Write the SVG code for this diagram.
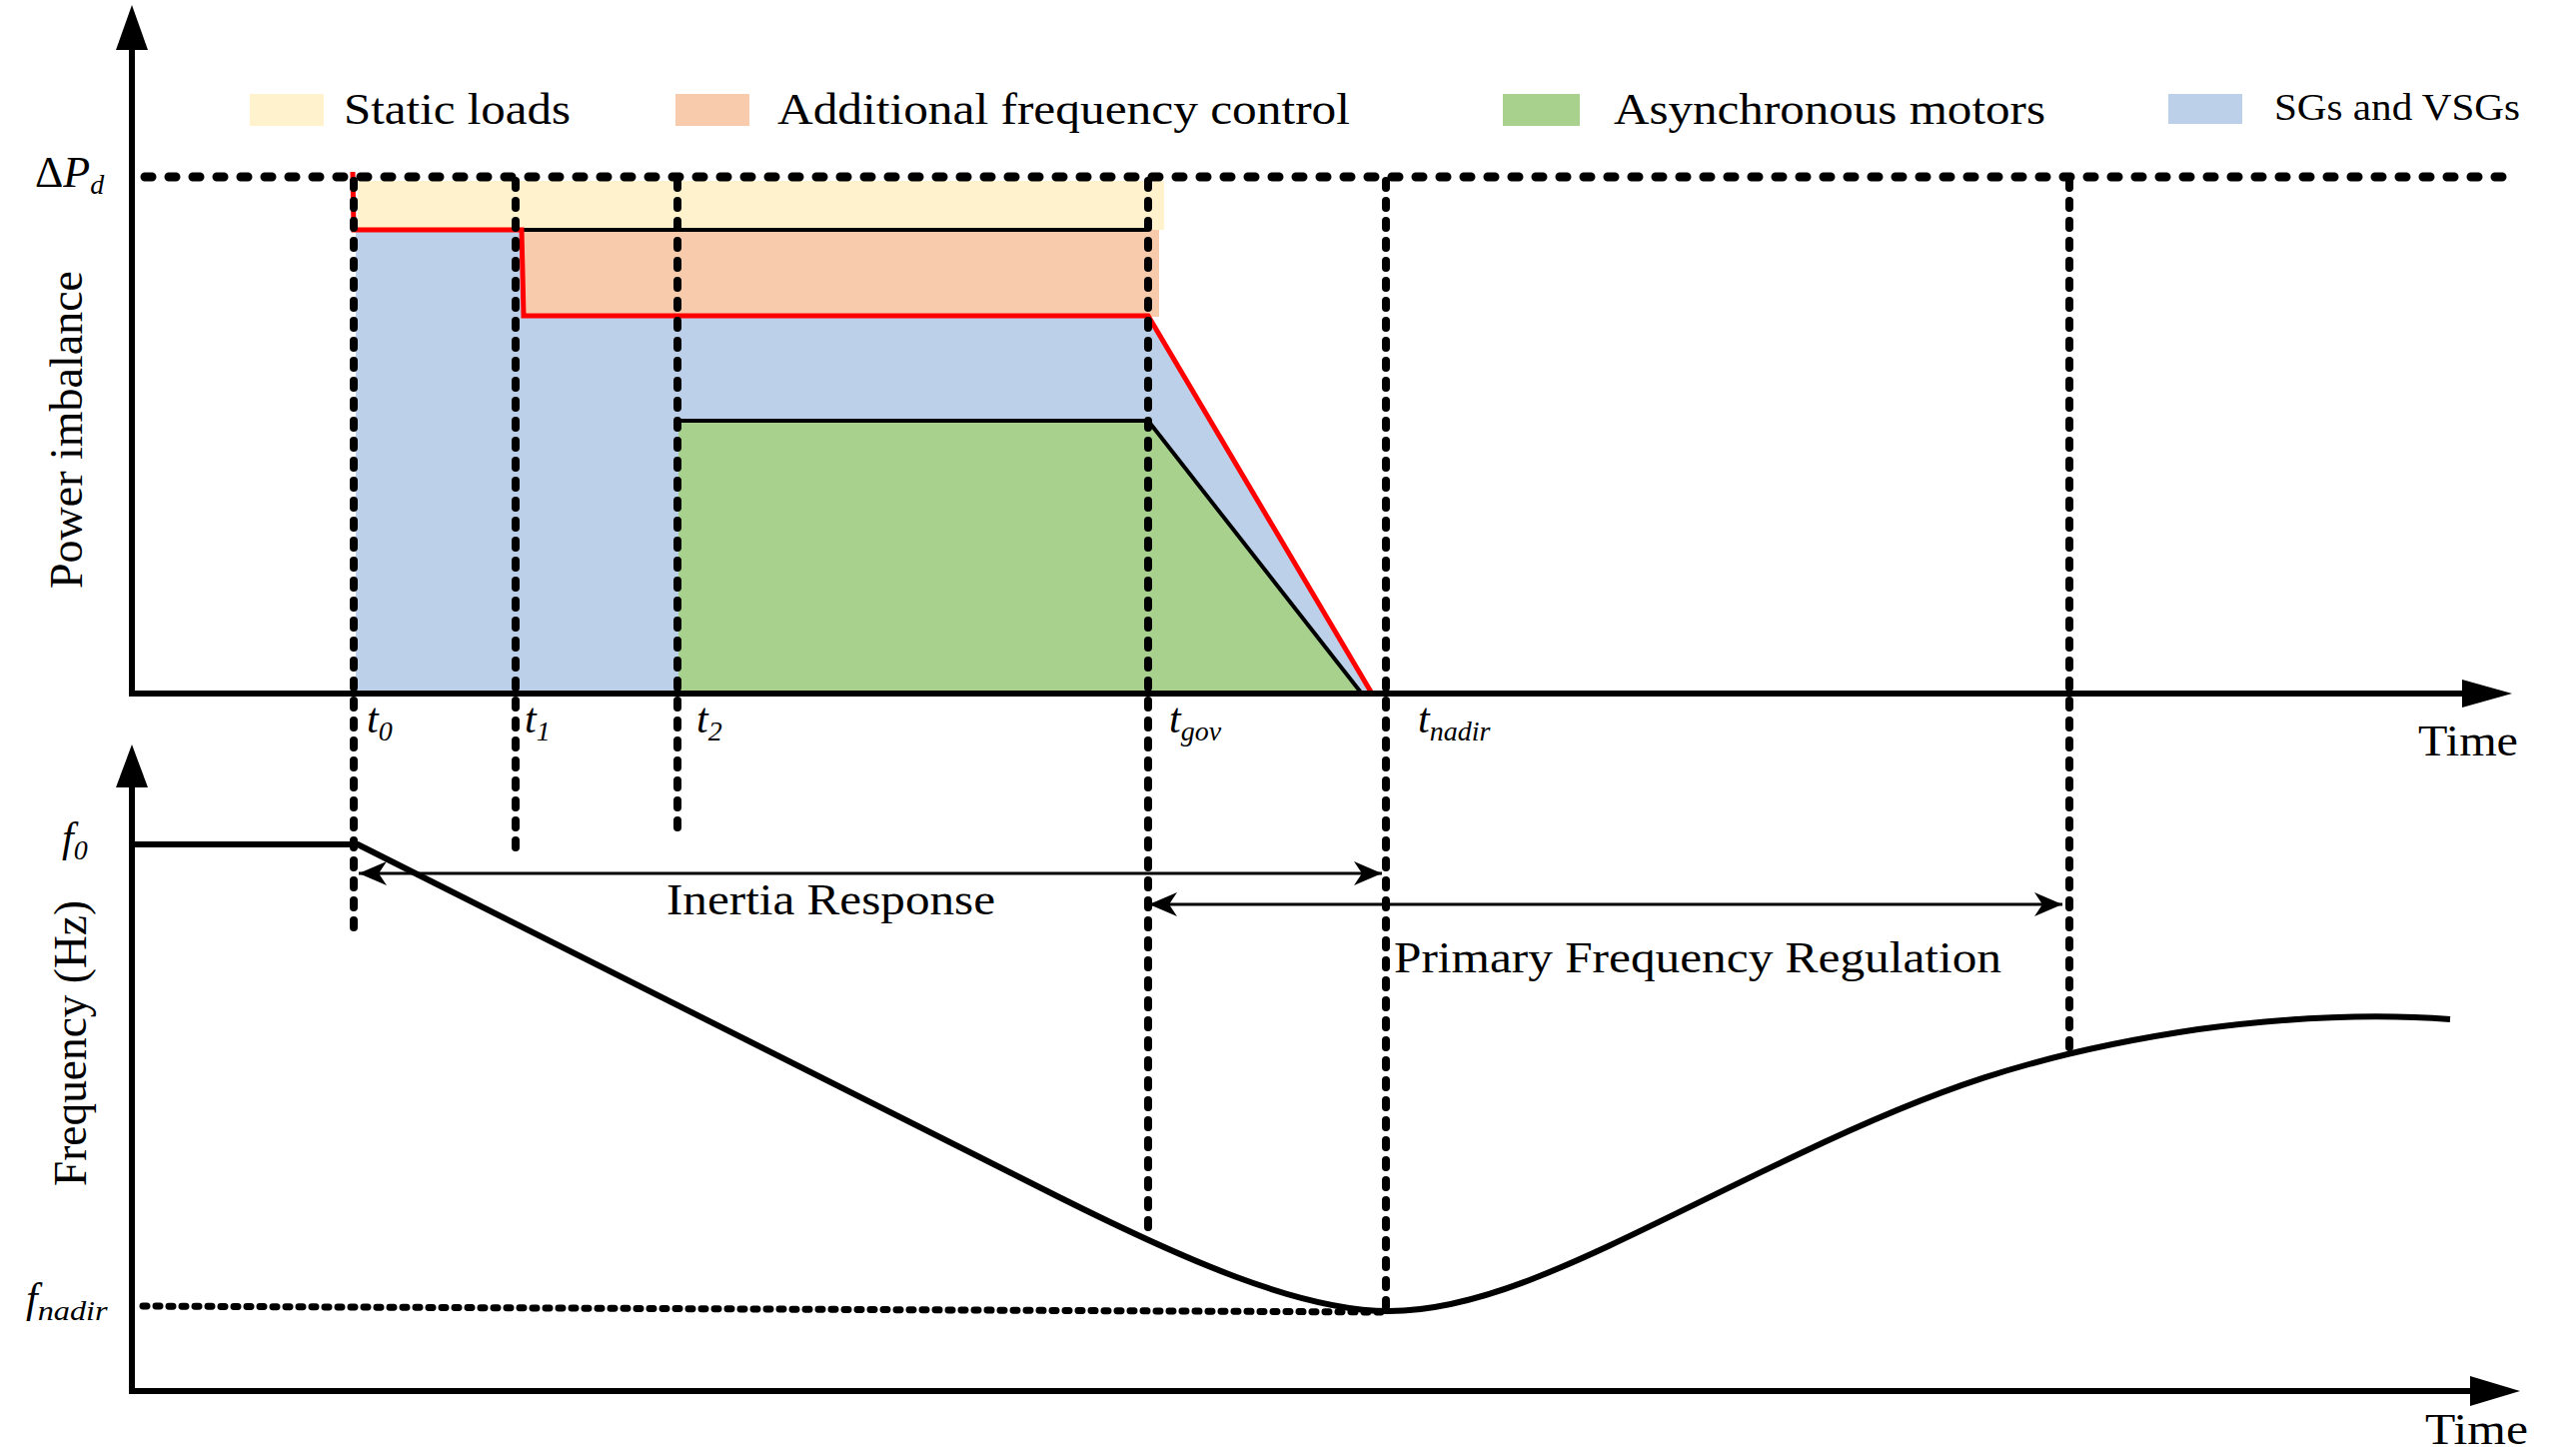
<svg xmlns="http://www.w3.org/2000/svg" width="2578" height="1455" viewBox="0 0 2578 1455">
<defs>
<style>
text{font-family:"Liberation Serif","Times New Roman",serif;fill:#000}
.lbl{font-size:44px}
.it{font-style:italic}
.sub{font-size:28px;font-style:italic}
.axis{stroke:#000;stroke-width:6;fill:none}
.dotH{stroke:#000;stroke-width:9;stroke-dasharray:7 17;stroke-linecap:round;fill:none}
.dashV{stroke:#000;stroke-width:8;stroke-dasharray:7 13;stroke-linecap:round;fill:none}
.dotN{stroke:#000;stroke-width:7;stroke-dasharray:4 9;stroke-linecap:round;fill:none}
.thin{stroke:#000;stroke-width:3;fill:none}
</style>
<marker id="ah" viewBox="-30 -14 32 28" refX="0" refY="0" markerWidth="32" markerHeight="28" markerUnits="userSpaceOnUse" orient="auto-start-reverse">
<path d="M0,0 L-28,-12 L-20,0 L-28,12 Z" fill="#000"/>
</marker>
</defs>
<rect width="2578" height="1455" fill="#fff"/>

<g id="legend">
<g id="leg-static"><rect x="250" y="94" width="74" height="32" fill="#FFF2CC"/><text class="lbl" x="344" y="124" textLength="227" lengthAdjust="spacingAndGlyphs">Static loads</text></g>
<g id="leg-afc"><rect x="676" y="94" width="74" height="32" fill="#F8CBAD"/><text class="lbl" x="778" y="124" textLength="573" lengthAdjust="spacingAndGlyphs">Additional frequency control</text></g>
<g id="leg-am"><rect x="1504" y="94" width="77" height="32" fill="#A9D18E"/><text class="lbl" x="1615" y="124" textLength="432" lengthAdjust="spacingAndGlyphs">Asynchronous motors</text></g>
<g id="leg-sg"><rect x="2170" y="94" width="74" height="30" fill="#BDD0E9"/><text x="2276" y="120" font-size="38" textLength="246" lengthAdjust="spacingAndGlyphs">SGs and VSGs</text></g>
</g>

<g id="power-areas">
<rect id="area-static" x="358" y="181" width="807" height="49" fill="#FFF2CC"/>
<rect id="area-afc" x="522" y="230" width="638" height="87" fill="#F8CBAD"/>
<polygon id="area-sg" points="356,230 522,230 522,317 1149,317 1372,694 356,694" fill="#BDD0E9"/>
<polygon id="area-am" points="679,421 1149,421 1362,694 679,694" fill="#A9D18E"/>
</g>

<g id="power-lines">
<polyline points="522,230 1149,230" stroke="#000" stroke-width="4" fill="none"/>
<polyline points="675,421 1149,421 1362,693" stroke="#000" stroke-width="4" fill="none"/>
<polyline points="353,172 354,230 522,230 524,316 1149,316 1373,694" stroke="#FF0000" stroke-width="5" fill="none"/>
</g>

<g id="guides">
<line class="dotH" x1="145" y1="177" x2="2515" y2="177"/>
<line class="dashV" x1="354" y1="181" x2="354" y2="932"/>
<line class="dashV" x1="516" y1="181" x2="516" y2="853"/>
<line class="dashV" x1="678" y1="181" x2="678" y2="833"/>
<line class="dashV" x1="1149" y1="181" x2="1149" y2="1230"/>
<line class="dashV" x1="1387" y1="181" x2="1387" y2="1310"/>
<line class="dashV" x1="2071" y1="181" x2="2071" y2="1048"/>
<line class="dotN" x1="143" y1="1307" x2="1382" y2="1313"/>
</g>

<g id="axes">
<polyline class="axis" points="132,48 132,694 2466,694"/>
<polygon points="132,5 116,50 148,50" fill="#000"/>
<polygon points="2514,694 2464,680 2464,708" fill="#000"/>
<polyline class="axis" points="132,786 132,1392 2474,1392"/>
<polygon points="132,745 116,788 148,788" fill="#000"/>
<polygon points="2522,1392 2472,1377 2472,1407" fill="#000"/>
</g>

<g id="freq-curve">
<path d="M132,845 L358,845 L1060,1198 C1180,1258 1300,1312 1390,1312 C1500,1312 1620,1240 1800,1155 C1930,1093 2030,1055 2200,1030 C2320,1014 2400,1016 2452,1020" stroke="#000" stroke-width="6" fill="none" stroke-linejoin="round"/>
</g>

<g id="connectors">
<line class="thin" x1="359" y1="874" x2="1383" y2="874" marker-start="url(#ah)" marker-end="url(#ah)"/>
<line class="thin" x1="1150" y1="905" x2="2064" y2="905" marker-start="url(#ah)" marker-end="url(#ah)"/>
</g>

<g id="labels">
<text x="35" y="187" font-size="44">Δ<tspan class="it">P</tspan><tspan class="sub" dy="7">d</tspan></text>
<text transform="translate(82,430) rotate(-90)" font-size="46" text-anchor="middle" textLength="318" lengthAdjust="spacingAndGlyphs">Power imbalance</text>
<text transform="translate(86,1044) rotate(-90)" font-size="46" text-anchor="middle" textLength="286" lengthAdjust="spacingAndGlyphs">Frequency (Hz)</text>
<text class="lbl" x="2420" y="756" textLength="100" lengthAdjust="spacingAndGlyphs">Time</text>
<text class="lbl" x="2427" y="1445" textLength="103" lengthAdjust="spacingAndGlyphs">Time</text>
<text x="367" y="733" font-size="42" class="it">t<tspan class="sub" dy="8">0</tspan></text>
<text x="525" y="733" font-size="42" class="it">t<tspan class="sub" dy="8">1</tspan></text>
<text x="697" y="733" font-size="42" class="it">t<tspan class="sub" dy="8">2</tspan></text>
<text x="1170" y="733" font-size="42" class="it">t<tspan class="sub" dy="8">gov</tspan></text>
<text x="1419" y="733" font-size="42" class="it">t<tspan class="sub" dy="8">nadir</tspan></text>
<text x="62" y="852" font-size="42" class="it">f<tspan class="sub" dy="8">0</tspan></text>
<text x="26" y="1313" font-size="42" class="it">f<tspan class="sub" dy="8" textLength="70" lengthAdjust="spacingAndGlyphs">nadir</tspan></text>
<text class="lbl" x="667" y="915" textLength="329" lengthAdjust="spacingAndGlyphs">Inertia Response</text>
<text class="lbl" x="1395" y="973" textLength="608" lengthAdjust="spacingAndGlyphs">Primary Frequency Regulation</text>
</g>
</svg>
